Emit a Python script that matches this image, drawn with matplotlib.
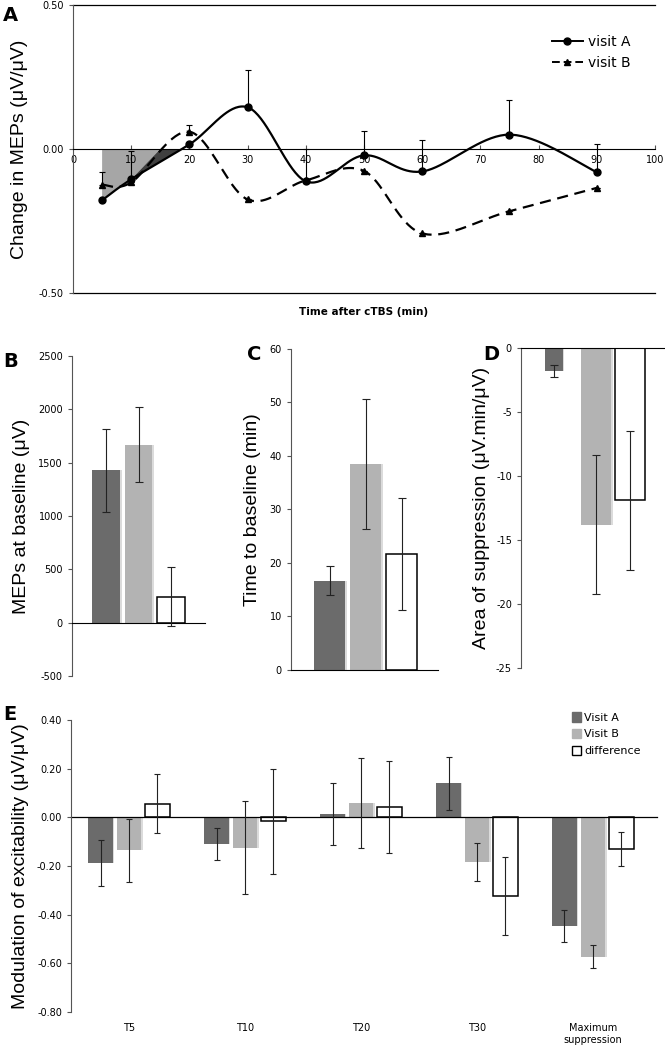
import numpy as np
import matplotlib
matplotlib.use("Agg")
import matplotlib.pyplot as plt
from matplotlib.patches import Patch, Polygon
from matplotlib.lines import Line2D

plt.rcParams["axes.unicode_minus"] = False

# ---- dados ----
tempos = [5, 10, 20, 30, 40, 50, 60, 75, 90]
visita_a = [-0.178, -0.105, 0.016, 0.145, -0.112, -0.022, -0.078, 0.050, -0.080]
visita_a_err = [0.0, 0.098, 0.0, 0.128, 0.112, 0.085, 0.110, 0.119, 0.098]
visita_b = [-0.124, -0.116, 0.060, -0.175, -0.109, -0.076, -0.293, -0.216, -0.135]
visita_b_err = [0.045, 0.0, 0.023, 0.0, 0.0, 0.0, 0.0, 0.0, 0.0]
# limites (min) das áreas sombreadas: início, cruzamento de B, cruzamento de A
area_lim = [5, 15, 18.7]

grupos = ["visit A", "visit B", "difference"]
mep_base = [1430, 1670, 245]
mep_base_err = [390, 355, 275]
tempo_base = [16.7, 38.5, 21.7]
tempo_base_err = [2.7, 12.1, 10.4]
area_sup = [-1.8, -13.8, -11.9]
area_sup_err = [0.5, 5.45, 5.45]

categorias = ["T5", "T10", "T20", "T30", "Maximum\nsuppression"]
mod_a = [-0.188, -0.111, 0.014, 0.139, -0.445]
mod_a_err = [0.095, 0.066, 0.128, 0.108, 0.066]
mod_b = [-0.136, -0.125, 0.059, -0.184, -0.573]
mod_b_err = [0.13, 0.19, 0.185, 0.079, 0.048]
mod_dif = [0.056, -0.016, 0.043, -0.324, -0.132]
mod_dif_err = [0.12, 0.215, 0.19, 0.16, 0.07]

ESCURO = "#6b6b6b"
CLARO = "#b3b3b3"
cores = [ESCURO, CLARO, "white"]
FONTE_TICK = "DejaVu Sans"
FONTE_LABEL = "Liberation Sans"


def suavizar(x, y, n=40):
    # curva suavizada estilo Excel (Bezier com tangentes de Catmull-Rom)
    x = np.asarray(x, float)
    y = np.asarray(y, float)
    px, py = [], []
    for i in range(len(x) - 1):
        x0, y0 = (x[i - 1], y[i - 1]) if i > 0 else (x[i], y[i])
        x3, y3 = (x[i + 2], y[i + 2]) if i + 2 < len(x) else (x[i + 1], y[i + 1])
        c1 = (x[i] + (x[i + 1] - x0) / 6, y[i] + (y[i + 1] - y0) / 6)
        c2 = (x[i + 1] - (x3 - x[i]) / 6, y[i + 1] - (y3 - y[i]) / 6)
        t = np.linspace(0, 1, n)
        bx = (1 - t) ** 3 * x[i] + 3 * (1 - t) ** 2 * t * c1[0] + 3 * (1 - t) * t ** 2 * c2[0] + t ** 3 * x[i + 1]
        by = (1 - t) ** 3 * y[i] + 3 * (1 - t) ** 2 * t * c1[1] + 3 * (1 - t) * t ** 2 * c2[1] + t ** 3 * y[i + 1]
        px.extend(bx)
        py.extend(by)
    return np.array(px), np.array(py)


def estilo_eixo(ax):
    for s in ["top", "right"]:
        ax.spines[s].set_visible(False)
    ax.spines["left"].set_color("#555555")
    ax.spines["bottom"].set_color("black")
    ax.tick_params(axis="both", labelsize=7, length=3, width=0.8, color="#555555")
    for lb in ax.get_xticklabels() + ax.get_yticklabels():
        lb.set_fontfamily(FONTE_TICK)


def barras(ax, pos, vals, errs, largura, cap=3):
    # barras com sombra discreta à direita (estilo Excel)
    for k, (p, v, e, w) in enumerate(zip(pos, vals, errs, largura)):
        c = cores[k % 3]
        if c != "white":
            ax.bar(p + w * 0.06, v, w, color="#999999", alpha=0.35, zorder=1, linewidth=0)
            ax.bar(p, v, w, color=c, zorder=2, linewidth=0)
        else:
            ax.bar(p, v, w, color="white", edgecolor="black", zorder=2, linewidth=1.1)
        ax.errorbar(p, v, yerr=e, fmt="none", ecolor="#222222", elinewidth=0.8,
                    capsize=cap, capthick=0.8, zorder=3)


fig = plt.figure(figsize=(6.65, 10.48), dpi=100)

# ---------------- painel A ----------------
axA = fig.add_axes([0.1098, 0.7204, 0.875, 0.2748])
axA.set_xlim(0, 100)
axA.set_ylim(-0.5, 0.5)

ta, va = np.array(tempos, float), np.array(visita_a)
v5 = np.interp(area_lim[0], ta, va)
v10 = np.interp(tempos[1], ta, va)
claro = Polygon([[area_lim[0], 0], [area_lim[0], v5], [tempos[1], v10], [area_lim[1], 0]],
                closed=True, facecolor="#a6a6a6", edgecolor="none", zorder=1)
escuro = Polygon([[tempos[1], v10], [area_lim[1], 0], [area_lim[2], 0]],
                 closed=True, facecolor="#404040", edgecolor="none", zorder=1)
axA.add_patch(claro)
axA.add_patch(escuro)

sx, sy = suavizar(tempos, visita_a)
axA.plot(sx, sy, color="black", lw=1.6, zorder=3)
axA.plot(tempos, visita_a, "o", color="black", ms=5, zorder=4)
sx, sy = suavizar(tempos, visita_b)
axA.plot(sx, sy, color="black", lw=1.6, ls=(0, (5, 3)), zorder=3)
axA.plot(tempos, visita_b, "^", color="black", ms=5, zorder=4)
axA.errorbar(tempos, visita_a, yerr=[np.zeros(len(tempos)), visita_a_err], fmt="none",
             ecolor="black", elinewidth=0.8, capsize=2.5, capthick=0.8, zorder=2)
axA.errorbar(tempos, visita_b, yerr=[np.zeros(len(tempos)), visita_b_err], fmt="none",
             ecolor="black", elinewidth=0.8, capsize=2.5, capthick=0.8, zorder=2)

axA.set_yticks([-0.5, 0, 0.5])
axA.set_yticklabels(["-0.50", "0.00", "0.50"])
axA.set_xticks(range(0, 101, 10))
axA.axhline(0.5, color="black", lw=0.9, clip_on=False)
axA.axhline(-0.5, color="black", lw=0.9, clip_on=False)
axA.spines["bottom"].set_position(("data", 0))
estilo_eixo(axA)
axA.tick_params(axis="x", direction="in", pad=4, length=3)
axA.set_xlabel("Time after cTBS (min)", fontsize=7.5, fontweight="bold", fontfamily=FONTE_TICK,
               labelpad=0)
axA.xaxis.set_label_coords(0.5, -0.05)
axA.set_ylabel("Change in MEPs (μV/μV)", fontsize=14, fontfamily=FONTE_LABEL, labelpad=8)

leg = [Line2D([0], [0], color="black", lw=1.4, marker="o", ms=5),
       Line2D([0], [0], color="black", lw=1.4, ls=(0, (4, 2)), marker="^", ms=5)]
axA.legend(leg, ["visit A", "visit B"], loc="upper right", bbox_to_anchor=(0.98, 0.94),
           frameon=False, handlelength=2.2, handletextpad=0.4,
           prop={"family": FONTE_TICK, "size": 10})

# ---------------- painel B ----------------
pos3 = np.arange(3)
axB = fig.add_axes([0.1083, 0.355, 0.2, 0.3053])
barras(axB, pos3, mep_base, mep_base_err, [0.85] * 3)
axB.set_xlim(-1.05, 3.05)
axB.set_ylim(-500, 2500)
axB.set_yticks(range(-500, 2501, 500))
axB.set_xticks([])
axB.spines["bottom"].set_position(("data", 0))
estilo_eixo(axB)
axB.set_ylabel("MEPs at baseline (μV)", fontsize=14, fontfamily=FONTE_LABEL, labelpad=6)

# ---------------- painel C ----------------
axC = fig.add_axes([0.4376, 0.3607, 0.221, 0.3063])
barras(axC, pos3, tempo_base, tempo_base_err, [0.85] * 3)
axC.set_xlim(-1.07, 3.01)
axC.set_ylim(0, 60)
axC.set_yticks(range(0, 61, 10))
axC.set_xticks([])
estilo_eixo(axC)
axC.set_ylabel("Time to baseline (min)", fontsize=14, fontfamily=FONTE_LABEL, labelpad=6)

# ---------------- painel D ----------------
axD = fig.add_axes([0.7835, 0.3626, 0.2165, 0.3053])
barras(axD, np.array([0.05, 1.13, 2.0]), area_sup, area_sup_err, [0.46, 0.77, 0.77])
axD.set_xlim(-0.8, 2.9)
axD.set_ylim(-25, 0)
axD.set_yticks(range(-25, 1, 5))
axD.set_xticks([])
axD.spines["bottom"].set_position(("data", 0))
estilo_eixo(axD)
axD.set_ylabel("Area of suppression (μV.min/μV)", fontsize=14, fontfamily=FONTE_LABEL, labelpad=4)

# ---------------- painel E ----------------
axE = fig.add_axes([0.1068, 0.0344, 0.872, 0.2786])
xc = np.arange(len(categorias))
larg = 0.21
desl = 0.245
series = [(mod_a, mod_a_err), (mod_b, mod_b_err), (mod_dif, mod_dif_err)]
for k, (vals, errs) in enumerate(series):
    pos = xc + (k - 1) * desl
    for p, v, e in zip(pos, vals, errs):
        if cores[k] != "white":
            axE.bar(p + larg * 0.06, v, larg, color="#999999", alpha=0.35, zorder=1, linewidth=0)
            axE.bar(p, v, larg, color=cores[k], zorder=2, linewidth=0)
        else:
            axE.bar(p, v, larg, color="white", edgecolor="black", zorder=2, linewidth=1.1)
        axE.errorbar(p, v, yerr=e, fmt="none", ecolor="#222222", elinewidth=0.8,
                     capsize=2.5, capthick=0.8, zorder=3)
axE.set_xlim(-0.5, len(categorias) - 0.5)
axE.set_ylim(-0.8, 0.4)
yt = np.round(np.arange(-0.8, 0.41, 0.2), 2)
axE.set_yticks(yt)
axE.set_yticklabels([f"{v:.2f}" if v != 0 else "0.00" for v in yt])
axE.set_xticks(xc)
axE.set_xticklabels(categorias)
axE.axhline(0, color="black", lw=0.9, xmax=1.01, clip_on=False)
axE.spines["bottom"].set_visible(False)
estilo_eixo(axE)
axE.tick_params(axis="x", length=0, pad=8)
axE.set_ylabel("Modulation of excitability (μV/μV)", fontsize=14, fontfamily=FONTE_LABEL, labelpad=6)
handles = [Patch(facecolor=ESCURO, edgecolor=ESCURO), Patch(facecolor=CLARO, edgecolor=CLARO),
           Patch(facecolor="white", edgecolor="black")]
axE.legend(handles, ["Visit A", "Visit B", "difference"], loc="upper right",
           bbox_to_anchor=(1.0, 1.06), frameon=False, handlelength=0.8, handleheight=0.9,
           handletextpad=0.3, labelspacing=0.55, prop={"family": FONTE_TICK, "size": 8})

# letras dos painéis
for letra, x, y in [("A", 0.005, 0.985), ("B", 0.005, 0.655), ("C", 0.372, 0.662),
                    ("D", 0.727, 0.662), ("E", 0.005, 0.318)]:
    fig.text(x, y, letra, fontsize=14, fontweight="bold", fontfamily="DejaVu Sans", va="center")

fig.savefig("out.png", dpi=100)
